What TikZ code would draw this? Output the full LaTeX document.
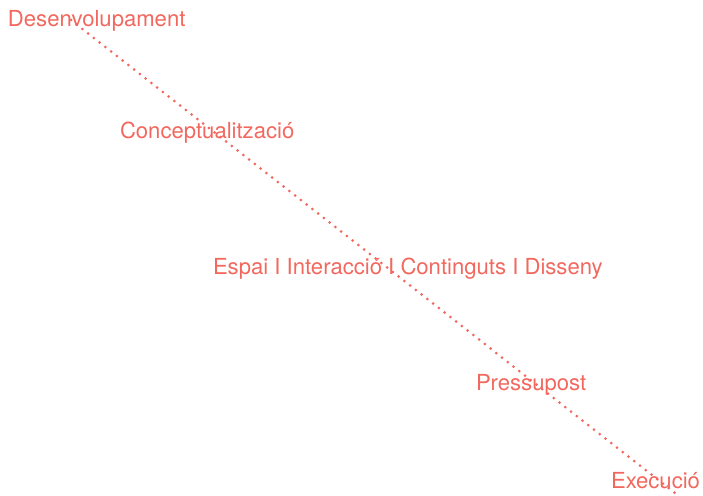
\documentclass[tikz,border=0pt]{standalone}
\usepackage{fontspec}
\setmainfont{TeX Gyre Heros}
\definecolor{salmon}{RGB}{242,104,94}
\begin{document}
\begin{tikzpicture}[x=1pt,y=-1pt,
  lbl/.style={anchor=base west,inner sep=0pt,outer sep=0pt,text=salmon,font=\fontsize{22.1}{24}\selectfont},
  dotline/.style={draw=salmon,line width=3pt,line cap=round,dash pattern=on 0pt off 7.3pt}]
\useasboundingbox (0,0) rectangle (703,495);
\coordinate (start) at (71,20);
\coordinate (end) at (675,493);
\draw[dotline] (start) -- (end);
\node[lbl] (dev) at (8,27) {Desenvolupament};
\node[lbl] (con) at (120,138) {Conceptualització};
\node[lbl] (esp) at (213,274) {Espai I Interacció I Continguts I Disseny};
\node[lbl] (pre) at (476,390) {Pressupost};
\node[lbl] (exe) at (611,488) {Execució};
\end{tikzpicture}
\end{document}
